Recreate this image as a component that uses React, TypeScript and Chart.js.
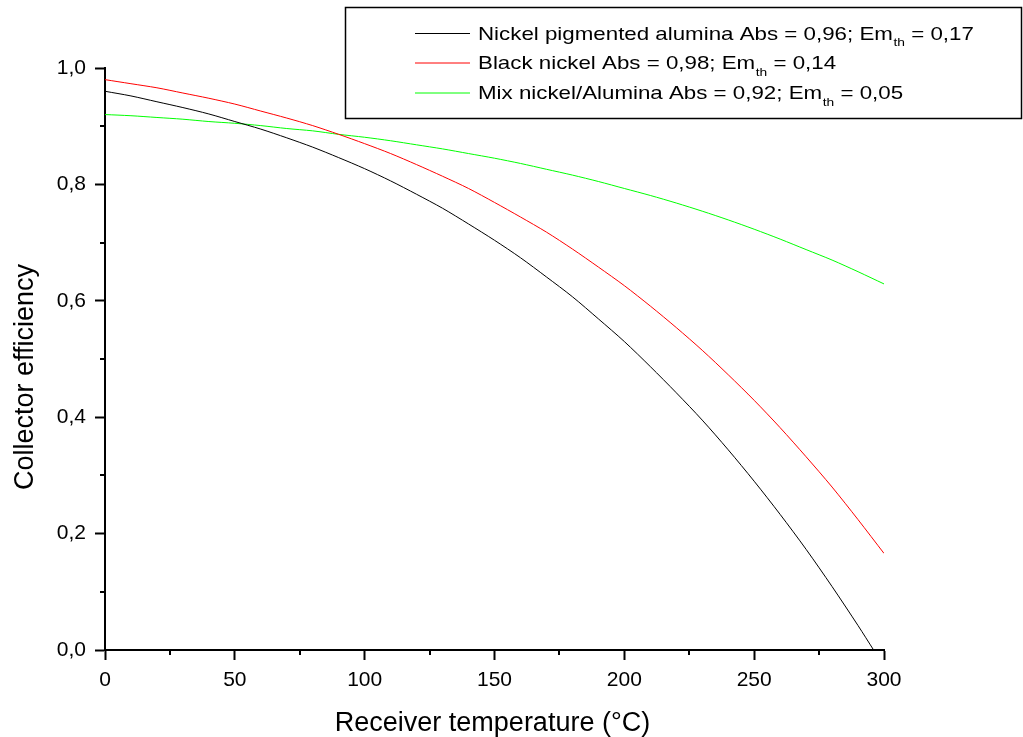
import React, { useEffect, useRef } from "react";
import { Chart, registerables } from "chart.js";

Chart.register(...registerables);

// ---- Data ----
const temps = [0, 10, 20, 30, 40, 50, 60, 70, 80, 90, 100, 110, 120, 130, 140, 150, 160, 170, 180, 190, 200, 210, 220, 230, 240, 250, 260, 270, 280, 290, 300];
const nickelPigmentedTemps = [0, 10, 20, 30, 40, 50, 60, 70, 80, 90, 100, 110, 120, 130, 140, 150, 160, 170, 180, 190, 200, 210, 220, 230, 240, 250, 260, 270, 280, 290, 296];
const nickelPigmentedAlumina = [0.960, 0.952, 0.942, 0.932, 0.921, 0.908, 0.895, 0.880, 0.864, 0.846, 0.827, 0.806, 0.783, 0.759, 0.732, 0.704, 0.674, 0.641, 0.607, 0.569, 0.530, 0.487, 0.442, 0.395, 0.344, 0.290, 0.233, 0.173, 0.109, 0.042, 0.0];
const blackNickel = [0.980, 0.973, 0.966, 0.957, 0.948, 0.938, 0.926, 0.914, 0.901, 0.886, 0.870, 0.853, 0.834, 0.814, 0.793, 0.769, 0.744, 0.718, 0.689, 0.658, 0.626, 0.591, 0.554, 0.515, 0.473, 0.429, 0.382, 0.332, 0.280, 0.224, 0.166];
const mixNickelAlumina = [0.920, 0.918, 0.915, 0.912, 0.908, 0.905, 0.901, 0.896, 0.892, 0.886, 0.881, 0.875, 0.868, 0.861, 0.853, 0.845, 0.836, 0.826, 0.816, 0.805, 0.793, 0.781, 0.768, 0.754, 0.739, 0.723, 0.706, 0.688, 0.670, 0.650, 0.629];

const seriesNames = ["Nickel pigmented alumina", "Black nickel", "Mix nickel/Alumina"];
const absValues = ["0,96", "0,98", "0,92"];
const emValues = ["0,17", "0,14", "0,05"];
const seriesColors = ["#000000", "#ff0000", "#00ff00"];

const xTitle = "Receiver temperature (°C)";
const yTitle = "Collector efficiency";
const xMinorTicks = [25, 75, 125, 175, 225, 275];
const yMinorTicks = [0.1, 0.3, 0.5, 0.7, 0.9];

const FONT = "'Liberation Sans', Arial, Helvetica, sans-serif";

const overlayPlugin = {
  id: "overlay",
  afterDraw(chart: any) {
    const ctx = chart.ctx as CanvasRenderingContext2D;
    const xs = chart.scales.x;
    const ys = chart.scales.y;
    const area = chart.chartArea;
    ctx.save();
    // minor ticks
    ctx.strokeStyle = "#000";
    ctx.lineWidth = 2;
    ctx.beginPath();
    for (const v of xMinorTicks) {
      const px = Math.round(xs.getPixelForValue(v));
      ctx.moveTo(px, area.bottom);
      ctx.lineTo(px, area.bottom + 5);
    }
    for (const v of yMinorTicks) {
      const py = Math.round(ys.getPixelForValue(v));
      ctx.moveTo(area.left, py);
      ctx.lineTo(area.left - 5, py);
    }
    ctx.stroke();

    // axis titles
    ctx.fillStyle = "#000";
    ctx.font = `27px ${FONT}`;
    ctx.textAlign = "center";
    ctx.textBaseline = "alphabetic";
    ctx.fillText(xTitle, (area.left + area.right) / 2 - 2, 731);
    ctx.save();
    ctx.translate(33, 377);
    ctx.rotate(-Math.PI / 2);
    ctx.fillText(yTitle, 0, 0);
    ctx.restore();

    // legend box
    ctx.lineWidth = 1.5;
    ctx.strokeStyle = "#000";
    ctx.strokeRect(345.5, 7.5, 676, 111);
    const rows = [33, 62.5, 92.5];
    ctx.textAlign = "left";
    for (let i = 0; i < seriesNames.length; i++) {
      const y = rows[i];
      ctx.strokeStyle = seriesColors[i];
      ctx.lineWidth = 1;
      ctx.beginPath();
      ctx.moveTo(415, y + 0.5);
      ctx.lineTo(470, y + 0.5);
      ctx.stroke();
      const main = `${seriesNames[i]} Abs = ${absValues[i]}; Em`;
      const rest = ` = ${emValues[i]}`;
      ctx.save();
      ctx.translate(478, y + 6.8);
      ctx.scale(1.2, 1);
      ctx.fillStyle = "#000";
      ctx.font = `18.6px ${FONT}`;
      ctx.fillText(main, 0, 0);
      const w1 = ctx.measureText(main).width;
      ctx.font = `11.5px ${FONT}`;
      ctx.fillText("th", w1 + 0.5, 6.5);
      const w2 = ctx.measureText("th").width;
      ctx.font = `18.6px ${FONT}`;
      ctx.fillText(rest, w1 + w2 + 0.5, 0);
      ctx.restore();
    }
    ctx.restore();
  },
};

export default function App() {
  const ref = useRef<HTMLCanvasElement | null>(null);
  useEffect(() => {
    if (!ref.current) return;
    const datasets = [
      {
        label: seriesNames[0],
        data: nickelPigmentedTemps.map((t, i) => ({ x: t, y: nickelPigmentedAlumina[i] })),
      },
      { label: seriesNames[1], data: temps.map((t, i) => ({ x: t, y: blackNickel[i] })) },
      { label: seriesNames[2], data: temps.map((t, i) => ({ x: t, y: mixNickelAlumina[i] })) },
    ].map((d, i) => ({
      ...d,
      borderColor: seriesColors[i],
      backgroundColor: seriesColors[i],
      borderWidth: 1,
      pointRadius: 0,
      fill: false,
      tension: 0.3,
    }));
    const chart = new Chart(ref.current, {
      type: "line",
      data: { datasets },
      plugins: [overlayPlugin],
      options: {
        animation: false,
        responsive: false,
        maintainAspectRatio: false,
        layout: { padding: { left: 0, top: 68, right: 139, bottom: 0 } },
        plugins: { legend: { display: false }, tooltip: { enabled: false } },
        scales: {
          x: {
            type: "linear",
            min: 0,
            max: 300,
            afterFit: (s: any) => {
              s.height = 87;
            },
            ticks: {
              stepSize: 50,
              color: "#000",
              font: { family: FONT, size: 21 },
              padding: 8,
              maxRotation: 0,
            },
            grid: {
              drawOnChartArea: false,
              drawTicks: true,
              tickLength: 10,
              tickWidth: 2,
              tickColor: "#000",
            },
            border: { display: true, color: "#000", width: 2 },
          },
          y: {
            type: "linear",
            min: 0,
            max: 1,
            afterFit: (s: any) => {
              s.width = 105;
            },
            ticks: {
              stepSize: 0.2,
              color: "#000",
              font: { family: FONT, size: 21 },
              padding: 9,
              callback: (v: any) => Number(v).toFixed(1).replace(".", ","),
            },
            grid: {
              drawOnChartArea: false,
              drawTicks: true,
              tickLength: 10,
              tickWidth: 2,
              tickColor: "#000",
            },
            border: { display: true, color: "#000", width: 2 },
          },
        },
      },
    });
    return () => chart.destroy();
  }, []);
  return (
    <div style={{ position: "absolute", left: 0, top: 0, width: 1023, height: 737, background: "#fff" }}>
      <canvas ref={ref} width={1023} height={737} style={{ width: 1023, height: 737, display: "block" }} />
    </div>
  );
}
